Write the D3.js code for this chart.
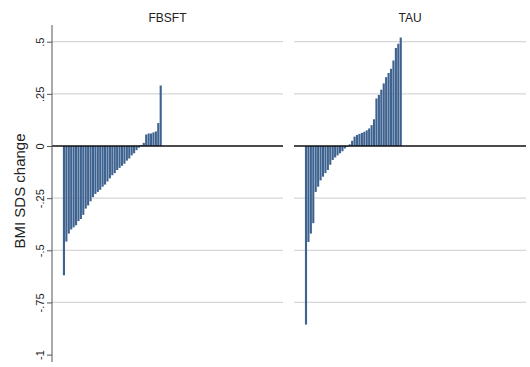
<!DOCTYPE html>
<html>
<head>
<meta charset="utf-8">
<script src="https://cdn.jsdelivr.net/npm/d3@7"></script>
<style>
  html, body { margin: 0; padding: 0; background: #fff; }
  svg { display: block; }
  text { font-family: "Liberation Sans", Arial, sans-serif; }
</style>
</head>
<body>
<svg id="chart" width="530" height="367"></svg>
<script>
// ---- data ----
const groups = ["FBSFT", "TAU"];
const fbsftValues = [
  -0.62, -0.458, -0.42, -0.40, -0.39, -0.38, -0.36, -0.35, -0.33, -0.30,
  -0.285, -0.265, -0.245, -0.23, -0.22, -0.21, -0.195, -0.185, -0.17, -0.155,
  -0.14, -0.13, -0.115, -0.105, -0.095, -0.085, -0.07, -0.06, -0.045, -0.035,
  -0.02, -0.008, 0.005, 0.015, 0.055, 0.06, 0.06, 0.065, 0.07, 0.11, 0.29
];
const tauValues = [
  -0.856, -0.46, -0.42, -0.37, -0.22, -0.195, -0.165, -0.147, -0.13, -0.115,
  -0.09, -0.067, -0.055, -0.045, -0.035, -0.025, -0.012, -0.004, 0.008, 0.025,
  0.045, 0.053, 0.058, 0.063, 0.068, 0.075, 0.084, 0.10, 0.128, 0.228,
  0.245, 0.27, 0.30, 0.33, 0.35, 0.37, 0.41, 0.47, 0.49, 0.52
];
const yTicks = [0.5, 0.25, 0, -0.25, -0.5, -0.75, -1];
const yTickLabels = [".5", ".25", "0", "-.25", "-.5", "-.75", "-1"];
const yTitle = "BMI SDS change";

// ---- layout ----
const svg = d3.select("#chart");
const plotTop = 25, plotBottom = 362;
const panels = [
  { name: groups[0], left: 52, right: 283, values: fbsftValues },
  { name: groups[1], left: 294, right: 526, values: tauValues }
];
const y = d3.scaleLinear().domain([-1, 0.5]).range([354.6, 41.7]);
const barColor = "#3f6390";

panels.forEach(p => {
  const w = p.right - p.left;
  const g = svg.append("g").attr("transform", `translate(${p.left},0)`);
  const x = d3.scaleLinear().domain([-4.5, 91]).range([0, w]);

  // gridlines
  g.selectAll("line.grid")
    .data(yTicks.filter(t => t !== 0 && t !== -1))
    .enter().append("line")
    .attr("x1", 0).attr("x2", w)
    .attr("y1", d => y(d)).attr("y2", d => y(d))
    .attr("stroke", "#d6d6d6").attr("stroke-width", 1.2);

  // bars
  const pitch = x(1) - x(0);
  g.selectAll("rect.bar")
    .data(p.values)
    .enter().append("rect")
    .attr("x", (d, i) => x(i))
    .attr("width", pitch - 0.3)
    .attr("y", d => Math.min(y(d), y(0)))
    .attr("height", d => Math.abs(y(d) - y(0)))
    .attr("fill", barColor);

  // zero line
  g.append("line")
    .attr("x1", 0).attr("x2", w)
    .attr("y1", y(0)).attr("y2", y(0))
    .attr("stroke", "#111").attr("stroke-width", 1.5);

  // panel title
  svg.append("text")
    .attr("x", (p.left + p.right) / 2)
    .attr("y", 22)
    .attr("text-anchor", "middle")
    .attr("font-size", 12)
    .attr("fill", "#222")
    .text(p.name);
});

// y axis
const axisX = 52;
svg.append("line")
  .attr("x1", axisX).attr("x2", axisX)
  .attr("y1", plotTop).attr("y2", plotBottom)
  .attr("stroke", "#555").attr("stroke-width", 1);

const axisG = svg.append("g").attr("transform", `translate(${axisX},0)`);
const yAxis = d3.axisLeft(y)
  .tickValues(yTicks)
  .tickFormat((d, i) => yTickLabels[i])
  .tickSize(5)
  .tickPadding(3);
axisG.call(yAxis);
axisG.select(".domain").remove();
axisG.selectAll(".tick line").attr("stroke", "#555");
axisG.selectAll(".tick text")
  .attr("font-family", "Liberation Sans, Arial, sans-serif")
  .attr("font-size", 11)
  .attr("fill", "#222")
  .attr("text-anchor", "middle")
  .attr("transform", "translate(-12,0) rotate(-90)")
  .attr("x", 0).attr("y", 0).attr("dy", "0.35em");

// y title
svg.append("text")
  .attr("transform", "translate(20,191) rotate(-90)")
  .attr("text-anchor", "middle")
  .attr("dy", "0.35em")
  .attr("font-size", 15)
  .attr("fill", "#222")
  .text(yTitle);
</script>
</body>
</html>
